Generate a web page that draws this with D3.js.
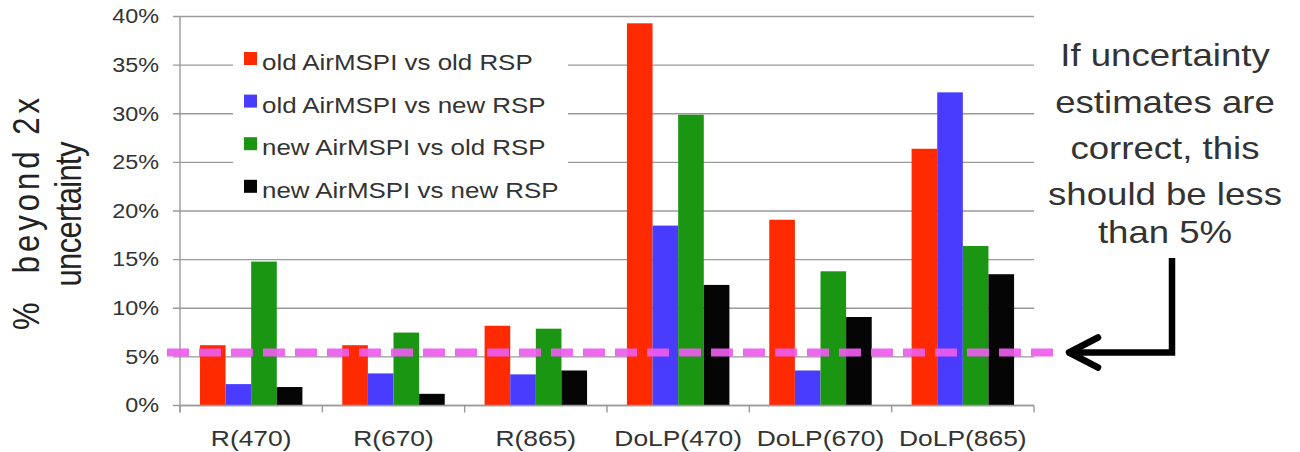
<!DOCTYPE html>
<html>
<head>
<meta charset="utf-8">
<script src="https://cdn.jsdelivr.net/npm/d3@7"></script>
<style>
  html, body { margin: 0; padding: 0; background: #fff; }
  svg { display: block; font-family: "Liberation Sans", Arial, Helvetica, sans-serif; }
</style>
</head>
<body>
<svg id="chart" width="1300" height="452"></svg>
<script>
// Share of comparisons beyond 2x the stated uncertainty, per band and product
const categories = ["R(470)", "R(670)", "R(865)", "DoLP(470)", "DoLP(670)", "DoLP(865)"];
const seriesNames = [
  "old AirMSPI vs old RSP",
  "old AirMSPI vs new RSP",
  "new AirMSPI vs old RSP",
  "new AirMSPI vs new RSP"
];
const oldAirOldRsp = [6.2, 6.2, 8.2, 39.3, 19.1, 26.4];
const oldAirNewRsp = [2.2, 3.3, 3.2, 18.5, 3.6, 32.2];
const newAirOldRsp = [14.8, 7.5, 7.9, 29.9, 13.8, 16.4];
const newAirNewRsp = [1.9, 1.2, 3.6, 12.4, 9.1, 13.5];
const seriesColors = ["#ff2a00", "#4a3cff", "#1a9612", "#050505"];
const yTicks = [0, 5, 10, 15, 20, 25, 30, 35, 40];
const thresholdLevel = 5.45;
const yTitleLines = ["%  beyond 2x", "uncertainty"];
const noteLines = ["If uncertainty", "estimates are", "correct, this", "should be less", "than 5%"];

const seriesValues = [oldAirOldRsp, oldAirNewRsp, newAirOldRsp, newAirNewRsp];
const rows = categories.map((c, i) => ({
  category: c,
  values: seriesNames.map((s, k) => ({ series: s, k, value: seriesValues[k][i] }))
}));

const svg = d3.select("#chart");
const stretch = 1.2;           // glyphs are drawn slightly wide
const textColor = "#333";
const gridColor = "#9a9a9a";

const plot = { left: 180, right: 1034, top: 16.5, bottom: 405.5 };

const x0 = d3.scaleBand()
  .domain(categories)
  .range([plot.left, plot.right])
  .paddingInner(0.28)
  .paddingOuter(0.14);
const x1 = d3.scaleBand()
  .domain(seriesNames)
  .range([0, x0.bandwidth()]);
const y = d3.scaleLinear()
  .domain([0, 40])
  .range([plot.bottom, plot.top]);

// horizontal gridlines (extend a little left of the axis as tick marks)
svg.append("g")
  .selectAll("line")
  .data(yTicks)
  .join("line")
  .attr("x1", plot.left - 7)
  .attr("x2", plot.right)
  .attr("y1", d => y(d))
  .attr("y2", d => y(d))
  .attr("stroke", gridColor)
  .attr("stroke-width", 1.4);

// legend backdrop hides the gridlines behind it
svg.append("rect")
  .attr("x", 233).attr("y", 30)
  .attr("width", 335).attr("height", 174)
  .attr("fill", "#fff");

// y axis labels
const yAxis = svg.append("g")
  .attr("transform", `translate(${plot.left},0)`)
  .call(d3.axisLeft(y).tickValues(yTicks).tickSize(0).tickPadding(21).tickFormat(d => d + "%"));
yAxis.select(".domain").remove();
yAxis.selectAll("text")
  .attr("font-size", 19.5)
  .attr("fill", textColor)
  .attr("font-family", "Liberation Sans, Arial, sans-serif")
  .each(function () {
    const t = d3.select(this);
    const xx = +t.attr("x");
    t.attr("x", 0).attr("transform", `translate(${xx},0) scale(${stretch},1)`);
  });

// vertical axis line
svg.append("line")
  .attr("x1", plot.left).attr("x2", plot.left)
  .attr("y1", plot.top).attr("y2", plot.bottom + 7)
  .attr("stroke", gridColor).attr("stroke-width", 1.4);

// bars
const groups = svg.append("g")
  .selectAll("g")
  .data(rows)
  .join("g")
  .attr("transform", d => `translate(${x0(d.category)},0)`);
groups.selectAll("rect")
  .data(d => d.values)
  .join("rect")
  .attr("x", d => x1(d.series))
  .attr("width", x1.bandwidth())
  .attr("y", d => y(d.value))
  .attr("height", d => y(0) - y(d.value))
  .attr("fill", d => seriesColors[d.k]);

// x axis baseline with ticks between categories
const xAxis = svg.append("g");
xAxis.append("line")
  .attr("x1", plot.left).attr("x2", plot.right)
  .attr("y1", plot.bottom).attr("y2", plot.bottom)
  .attr("stroke", gridColor).attr("stroke-width", 1.4);
const step = x0.step();
const boundaries = d3.range(categories.length + 1).map(i => plot.left + i * step);
xAxis.selectAll("line.tick")
  .data(boundaries)
  .join("line")
  .attr("class", "tick")
  .attr("x1", d => d).attr("x2", d => d)
  .attr("y1", plot.bottom).attr("y2", plot.bottom + 7)
  .attr("stroke", gridColor).attr("stroke-width", 1.4);
xAxis.selectAll("text")
  .data(categories)
  .join("text")
  .attr("transform", d => `translate(${x0(d) + x0.bandwidth() / 2},${plot.bottom + 40}) scale(${stretch},1)`)
  .attr("text-anchor", "middle")
  .attr("font-size", 22)
  .attr("fill", textColor)
  .text(d => d);

// threshold line
svg.append("line")
  .attr("x1", 167).attr("x2", 1061)
  .attr("y1", y(thresholdLevel)).attr("y2", y(thresholdLevel))
  .attr("stroke", "#ee5cee")
  .attr("stroke-opacity", 0.92)
  .attr("stroke-width", 8)
  .attr("stroke-dasharray", "22,10");

// legend
const legend = svg.append("g");
const legendItems = legend.selectAll("g")
  .data(seriesNames)
  .join("g")
  .attr("transform", (d, i) => `translate(244,${52 + i * 42.6})`);
legendItems.append("rect")
  .attr("width", 13).attr("height", 13)
  .attr("fill", (d, i) => seriesColors[i]);
legendItems.append("text")
  .attr("transform", `translate(18,18) scale(${stretch},1)`)
  .attr("font-size", 21.6)
  .attr("fill", textColor)
  .text(d => d);

// y axis title, rotated, glyphs slightly thickened across the line
svg.append("g")
  .selectAll("text")
  .data(yTitleLines)
  .join("text")
  .attr("transform", (d, i) => `translate(${[39, 81][i]},214) scale(${stretch},1) rotate(-90)`)
  .attr("text-anchor", "middle")
  .attr("font-size", 31)
  .attr("fill", "#222")
  .style("white-space", "pre")
  .attr("textLength", (d, i) => [232, 145][i])
  .attr("lengthAdjust", "spacing")
  .text(d => d);

// note on the right
svg.append("g")
  .selectAll("text")
  .data(noteLines)
  .join("text")
  .attr("transform", (d, i) => `translate(1165,${[66, 113, 159, 205, 243][i]}) scale(${stretch},1)`)
  .attr("text-anchor", "middle")
  .attr("font-size", 30.5)
  .attr("fill", textColor)
  .text(d => d);

// bent arrow pointing at the threshold line
const ay = y(thresholdLevel);
svg.append("path")
  .attr("d", `M1172,258 L1172,${ay} L1070,${ay}`)
  .attr("fill", "none")
  .attr("stroke", "#000")
  .attr("stroke-width", 6.5)
  .attr("stroke-linejoin", "miter");
svg.append("path")
  .attr("d", `M1098,${ay - 15} L1069,${ay} L1098,${ay + 15}`)
  .attr("fill", "none")
  .attr("stroke", "#000")
  .attr("stroke-width", 6.5)
  .attr("stroke-linecap", "round")
  .attr("stroke-linejoin", "round");
</script>
</body>
</html>
